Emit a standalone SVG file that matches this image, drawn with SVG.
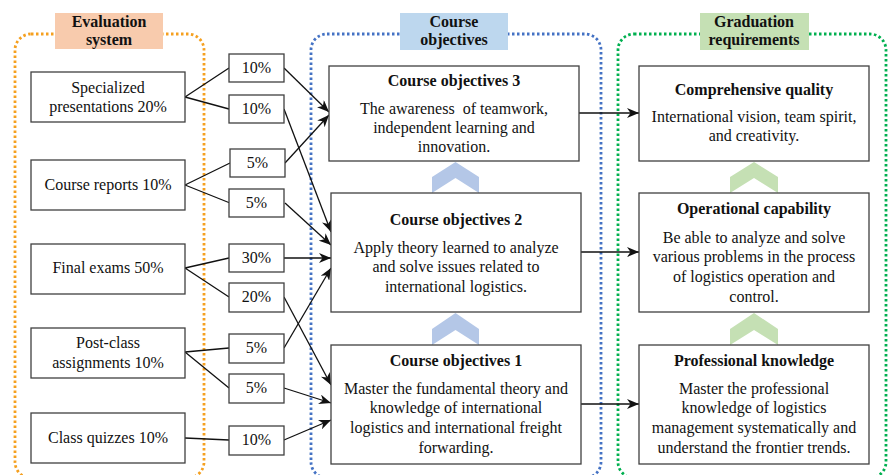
<svg xmlns="http://www.w3.org/2000/svg" width="888" height="475" viewBox="0 0 888 475">
<defs>
<style>
.frame{fill:none;stroke-width:2.8;stroke-dasharray:2.5 2.5}
.box{fill:#fff;stroke:#404040;stroke-width:1.3}
.t{font-family:"Liberation Serif","Times New Roman",serif;font-size:16px;fill:#111;text-anchor:middle}
.b{font-weight:bold}
.hd{font-family:"Liberation Serif","Times New Roman",serif;font-size:16px;font-weight:bold;fill:#111;text-anchor:middle}
.ln{fill:none;stroke:#111;stroke-width:1.3}
.ar{fill:none;stroke:#111;stroke-width:1.3;marker-end:url(#arr)}
</style>
<marker id="arr" viewBox="0 0 12 10" refX="12" refY="5" markerWidth="12" markerHeight="10" markerUnits="userSpaceOnUse" orient="auto">
<path d="M0,0 L12,5 L0,10 L3.5,5 z" fill="#111"/>
</marker>
</defs>

<g id="frames">
<rect class="frame" x="15" y="34" width="189" height="444" rx="16" stroke="#f5a020"/>
<rect class="frame" x="311" y="34" width="290" height="444" rx="16" stroke="#4472c4"/>
<rect class="frame" x="618" y="34" width="268" height="444" rx="16" stroke="#00b050"/>
</g>

<g id="label-evaluation">
<rect x="55" y="13" width="108" height="36" fill="#f8cbad"/>
<text class="hd" x="109" y="27">Evaluation</text>
<text class="hd" x="109" y="45">system</text>
</g>
<g id="label-objectives">
<rect x="400" y="13" width="108" height="37" fill="#bdd7ee"/>
<text class="hd" x="454" y="27">Course</text>
<text class="hd" x="454" y="45">objectives</text>
</g>
<g id="label-graduation">
<rect x="700" y="13" width="109" height="37" fill="#c5e0b4"/>
<text class="hd" x="754" y="27">Graduation</text>
<text class="hd" x="754" y="45">requirements</text>
</g>

<g id="connectors">
<path class="ln" d="M185,97 L229,68 M185,97 L229,109"/>
<path class="ln" d="M185,185 L230,163 M185,185 L230,203"/>
<path class="ln" d="M185,268 L229,258 M185,268 L229,297"/>
<path class="ln" d="M185,352 L229,348 M185,352 L229,388"/>
<path class="ln" d="M185,438 L229,440"/>
<path class="ar" d="M284,68 L329,112"/>
<path class="ar" d="M285,163 L329,115"/>
<path class="ar" d="M284,109 L331,232"/>
<path class="ar" d="M285,203 L331,245"/>
<path class="ar" d="M284,258 L331,258"/>
<path class="ar" d="M284,348 L331,268"/>
<path class="ar" d="M284,297 L331,385"/>
<path class="ar" d="M284,388 L331,403"/>
<path class="ar" d="M284,440 L331,420"/>
<path class="ar" d="M579,113 L639,113"/>
<path class="ar" d="M581,252 L639,252"/>
<path class="ar" d="M581,404 L639,404"/>
</g>

<g id="eval-specialized">
<rect class="box" x="31" y="72" width="154" height="50"/>
<text class="t" x="108" y="93">Specialized</text>
<text class="t" x="108" y="112">presentations 20%</text>
</g>
<g id="eval-reports">
<rect class="box" x="31" y="160" width="154" height="50"/>
<text class="t" x="108" y="190">Course reports 10%</text>
</g>
<g id="eval-final">
<rect class="box" x="31" y="244" width="154" height="50"/>
<text class="t" x="108" y="273">Final exams 50%</text>
</g>
<g id="eval-postclass">
<rect class="box" x="31" y="328" width="154" height="50"/>
<text class="t" x="108" y="348">Post-class</text>
<text class="t" x="108" y="368">assignments 10%</text>
</g>
<g id="eval-quizzes">
<rect class="box" x="31" y="413" width="154" height="50"/>
<text class="t" x="108" y="443">Class quizzes 10%</text>
</g>

<g id="pct-spec-1"><rect class="box" x="229" y="54" width="55" height="28"/><text class="t" x="256.5" y="73">10%</text></g>
<g id="pct-spec-2"><rect class="box" x="229" y="95" width="55" height="28"/><text class="t" x="256.5" y="114">10%</text></g>
<g id="pct-rep-1"><rect class="box" x="230" y="149" width="55" height="28"/><text class="t" x="257.5" y="168">5%</text></g>
<g id="pct-rep-2"><rect class="box" x="229" y="189" width="55" height="28"/><text class="t" x="256.5" y="208">5%</text></g>
<g id="pct-final-1"><rect class="box" x="229" y="244" width="55" height="28"/><text class="t" x="256.5" y="263">30%</text></g>
<g id="pct-final-2"><rect class="box" x="229" y="283" width="55" height="29"/><text class="t" x="256.5" y="302">20%</text></g>
<g id="pct-post-1"><rect class="box" x="229" y="334" width="55" height="29"/><text class="t" x="256.5" y="353">5%</text></g>
<g id="pct-post-2"><rect class="box" x="229" y="374" width="55" height="29"/><text class="t" x="256.5" y="393">5%</text></g>
<g id="pct-quiz"><rect class="box" x="229" y="426" width="55" height="29"/><text class="t" x="256.5" y="445">10%</text></g>

<g id="chevrons">
<polygon points="432,193 432,177 455.5,162 479,177 479,193 455.5,178" fill="#b4c7e7"/>
<polygon points="432,345 432,329 455.5,313 479,329 479,345 455.5,330" fill="#b4c7e7"/>
<polygon points="730,193 730,177 754,162 778,177 778,193 754,178" fill="#c5e0b4"/>
<polygon points="730,345 730,329 754,313 778,329 778,345 754,330" fill="#c5e0b4"/>
</g>

<g id="obj-3">
<rect class="box" x="329" y="66" width="250" height="95"/>
<text class="t b" x="454" y="86">Course objectives 3</text>
<text class="t" x="454" y="114">The awareness&#160; of teamwork,</text>
<text class="t" x="454" y="133">independent learning and</text>
<text class="t" x="454" y="152">innovation.</text>
</g>
<g id="obj-2">
<rect class="box" x="331" y="193" width="250" height="119"/>
<text class="t b" x="456" y="225">Course objectives 2</text>
<text class="t" x="456" y="253">Apply theory learned to analyze</text>
<text class="t" x="456" y="272">and solve issues related to</text>
<text class="t" x="456" y="292">international logistics.</text>
</g>
<g id="obj-1">
<rect class="box" x="331" y="345" width="250" height="119"/>
<text class="t b" x="456" y="366">Course objectives 1</text>
<text class="t" x="456" y="394">Master the fundamental theory and</text>
<text class="t" x="456" y="413">knowledge of international</text>
<text class="t" x="456" y="433">logistics and international freight</text>
<text class="t" x="456" y="453">forwarding.</text>
</g>

<g id="grad-comprehensive">
<rect class="box" x="639" y="66" width="230" height="95"/>
<text class="t b" x="754" y="95">Comprehensive quality</text>
<text class="t" x="754" y="122">International vision, team spirit,</text>
<text class="t" x="754" y="141">and creativity.</text>
</g>
<g id="grad-operational">
<rect class="box" x="639" y="193" width="230" height="119"/>
<text class="t b" x="754" y="214">Operational capability</text>
<text class="t" x="754" y="243">Be able to analyze and solve</text>
<text class="t" x="754" y="262">various problems in the process</text>
<text class="t" x="754" y="282">of logistics operation and</text>
<text class="t" x="754" y="302">control.</text>
</g>
<g id="grad-professional">
<rect class="box" x="639" y="345" width="230" height="119"/>
<text class="t b" x="754" y="366">Professional knowledge</text>
<text class="t" x="754" y="394">Master the professional</text>
<text class="t" x="754" y="413">knowledge of logistics</text>
<text class="t" x="754" y="433">management systematically and</text>
<text class="t" x="754" y="453">understand the frontier trends.</text>
</g>
</svg>
